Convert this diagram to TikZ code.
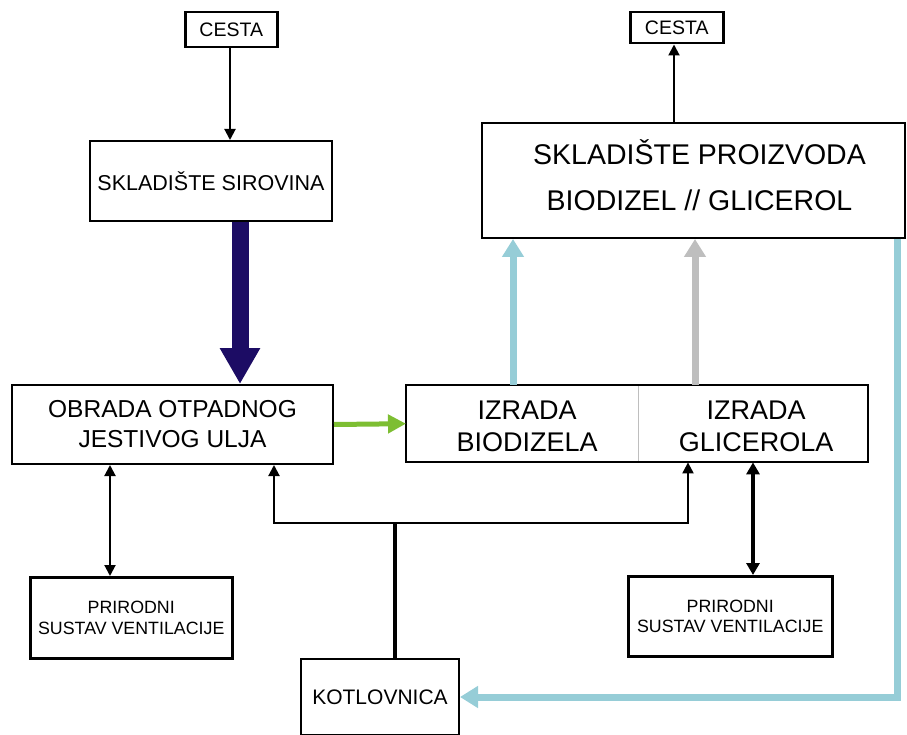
\documentclass[tikz,border=0pt]{standalone}
\usepackage{fontspec}
\setmainfont{Liberation Sans}
\usetikzlibrary{arrows.meta}
\definecolor{navy}{RGB}{28,12,100}
\definecolor{lgreen}{RGB}{125,190,50}
\definecolor{lblue}{RGB}{150,205,215}
\definecolor{lgray}{RGB}{190,190,190}
\begin{document}
\begin{tikzpicture}[x=1pt,y=-1pt,
  box/.style={draw, line width=2pt, inner sep=0pt, anchor=north west, align=center},
  cell/.style={inner sep=0pt, anchor=north west, align=center},
  blk/.style={line width=2pt, -{Triangle[width=11pt,length=11pt]}},
  dbl/.style={line width=2pt, {Triangle[width=11pt,length=11pt]}-{Triangle[width=11pt,length=11pt]}},
  fat/.style={line width=7pt, -{Triangle[width=21pt,length=18pt]}}]
\useasboundingbox (0,0) rectangle (907,735);
% boxes
\node[box, line width=2.5pt, minimum width=92, minimum height=35, font=\fontsize{19.5}{22}\selectfont] (c1) at (184,11) {CESTA};
\node[box, line width=2.5pt, minimum width=93, minimum height=31, font=\fontsize{19.5}{22}\selectfont] (c2) at (629,11) {CESTA};
\node[box, minimum width=242, minimum height=80, font=\fontsize{21.5}{25}\selectfont] (ss) at (89,140) {SKLADIŠTE SIROVINA};
\node[box, minimum width=423, minimum height=115] (sp) at (481,122) {};
\node[align=center, inner sep=0pt, font=\fontsize{28.5}{46}\selectfont] (spt) at ([xshift=6pt, yshift=5pt]sp.center) {SKLADIŠTE PROIZVODA\\BIODIZEL // GLICEROL};
\node[box, minimum width=321, minimum height=79, font=\fontsize{24.5}{30}\selectfont] (ob) at (11,384) {OBRADA OTPADNOG\\JESTIVOG ULJA};
\node[cell, minimum width=232, minimum height=77] (ib) at (406,385) {};
\node[cell, minimum width=230, minimum height=77] (ig) at (638,385) {};
\node[align=center, inner sep=0pt, font=\fontsize{27}{32}\selectfont] (ibt) at ([xshift=5pt, yshift=-3pt]ib.center) {IZRADA\\BIODIZELA};
\node[align=center, inner sep=0pt, font=\fontsize{27}{32}\selectfont] (igt) at ([xshift=3pt, yshift=-3pt]ig.center) {IZRADA\\GLICEROLA};
\draw[lgray, line width=1.2pt] (ib.north east) -- (ib.south east);
\draw[line width=2pt] (ib.north west) rectangle (ig.south east);
\node[box, line width=2.5pt, minimum width=202, minimum height=81, font=\fontsize{17.8}{20.5}\selectfont] (p1) at (29,576) {PRIRODNI\\SUSTAV VENTILACIJE};
\node[box, line width=2.5pt, minimum width=204, minimum height=80, font=\fontsize{17.8}{20.5}\selectfont] (p2) at (627,575) {PRIRODNI\\SUSTAV VENTILACIJE};
\node[box, minimum width=158, minimum height=76, font=\fontsize{21}{25}\selectfont] (ko) at (300,658) {KOTLOVNICA};
% coordinates
\coordinate (xa) at (230,0);
\coordinate (xn) at (240,0);
\coordinate (xc2) at (674,0);
\coordinate (xb) at (513,0);
\coordinate (xg) at (695,0);
\coordinate (xl) at (110,0);
\coordinate (xr) at (753,0);
\coordinate (ka) at (274,523);
\coordinate (kb) at (688,523);
\coordinate (kj) at (395,523);
\coordinate (br) at (897,697);
% connectors
\draw[blk] (c1.south -| xa) -- (ss.north -| xa);
\draw[blk] (sp.north -| xc2) -- (c2.south -| xc2);
\draw[navy, line width=17pt, -{Triangle[width=38pt,length=36pt]}] (ss.south -| xn) -- (ob.north -| xn);
\draw[lgreen, line width=5pt, -{Triangle[width=18pt,length=18pt]}] (ob.east) -- (ib.west);
\draw[lblue, fat] (ib.north -| xb) -- (sp.south -| xb);
\draw[lgray, fat] (ig.north -| xg) -- (sp.south -| xg);
\draw[dbl] (ob.south -| xl) -- (p1.north -| xl);
\draw[line width=3.5pt, {Triangle[width=13pt,length=12pt]}-{Triangle[width=13pt,length=12pt]}] (ig.south -| xr) -- (p2.north -| xr);
\draw[dbl] (ob.south -| ka) -- (ka) -- (kb) -- (ig.south -| kb);
\draw[line width=4.5pt] (ko.north -| kj) -- (kj);
\draw[lblue, line width=7pt, line join=miter, -{Triangle[width=21pt,length=18pt]}] (sp.south -| br) -- (br) -- (br -| ko.east);
\end{tikzpicture}
\end{document}
